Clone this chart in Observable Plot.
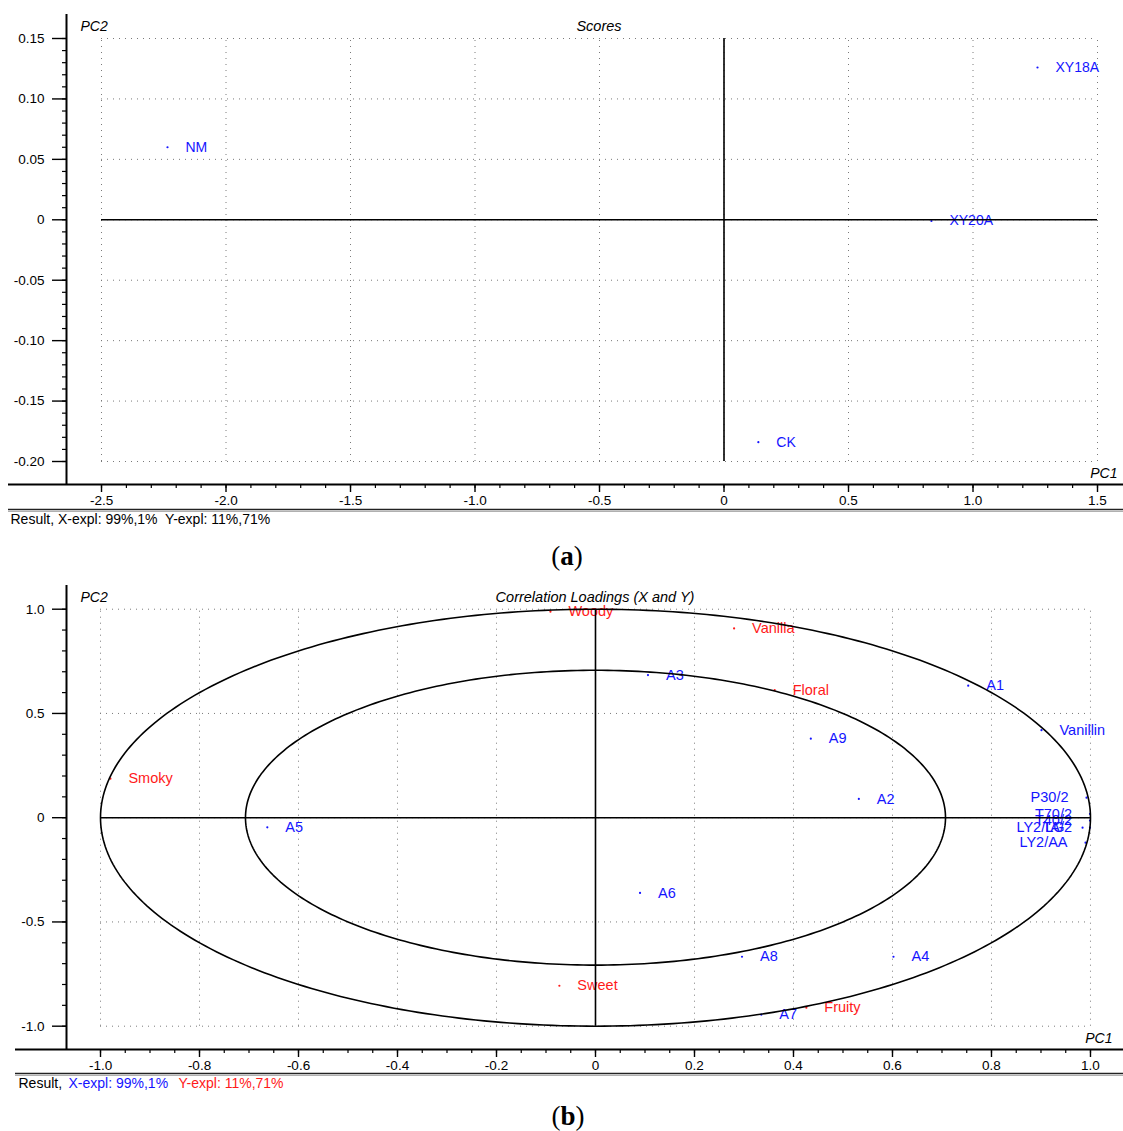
<!DOCTYPE html>
<html>
<head>
<meta charset="utf-8">
<script src="https://cdn.jsdelivr.net/npm/d3@7"></script>
<script src="https://cdn.jsdelivr.net/npm/@observablehq/plot@0.6"></script>
<style>
  html, body { margin: 0; padding: 0; background: #fff; overflow: hidden; }
  #wrap { width: 1123px; }
  .cap { position: relative; font-family: "Liberation Serif", "Times New Roman", serif; font-size: 27px; color: #000; }
  .cap span { position: absolute; left: 567px; transform: translateX(-50%); }
  .cap b { font-weight: bold; }
</style>
</head>
<body>
<div id="wrap">
  <div id="panelA"></div>
  <div class="cap" style="height:50px;line-height:52px;"><span>(<b>a</b>)</span></div>
  <div id="panelB"></div>
  <div class="cap" style="height:41px;line-height:52px;"><span style="left:568px">(<b>b</b>)</span></div>
</div>
<script>
// ---------- Panel (a): Scores ----------
const scoreNames = ["NM", "XY18A", "XY20A", "CK"];
const scorePC1 = [-2.235, 1.259, 0.833, 0.138];
const scorePC2 = [0.060, 0.126, -0.001, -0.184];

const xTicksA = [-2.5, -2.0, -1.5, -1.0, -0.5, 0, 0.5, 1.0, 1.5];
const xTickLabelsA = ["-2.5", "-2.0", "-1.5", "-1.0", "-0.5", "0", "0.5", "1.0", "1.5"];
const yTicksA = [-0.20, -0.15, -0.10, -0.05, 0, 0.05, 0.10, 0.15];
const yTickLabelsA = ["-0.20", "-0.15", "-0.10", "-0.05", "0", "0.05", "0.10", "0.15"];
const xMinorA = d3.range(-25, 16).map(i => i / 10);
const yMinorA = d3.range(-20, 16).map(i => i / 100);

// ---------- Panel (b): Correlation loadings ----------
const xVarNames = ["A1", "Vanillin", "A3", "A9", "A2", "A5", "A6", "A8", "A4", "A7",
                   "P30/2", "T70/2", "T40/2", "LY2/LG", "TA/2", "LY2/AA"];
const xVarPC1 = [0.753, 0.901, 0.106, 0.435, 0.532, -0.663, 0.090, 0.296, 0.602, 0.335,
                 0.992, 0.999, 0.999, 0.984, 0.999, 0.990];
const xVarPC2 = [0.633, 0.420, 0.684, 0.379, 0.090, -0.046, -0.361, -0.667, -0.667, -0.945,
                 0.096, 0.018, -0.014, -0.048, -0.048, -0.120];
const yVarNames = ["Woody", "Vanilla", "Floral", "Smoky", "Sweet", "Fruity"];
const yVarPC1 = [-0.091, 0.280, 0.362, -0.980, -0.073, 0.426];
const yVarPC2 = [0.988, 0.908, 0.612, 0.187, -0.806, -0.911];

const xTicksB = [-1.0, -0.8, -0.6, -0.4, -0.2, 0, 0.2, 0.4, 0.6, 0.8, 1.0];
const xTickLabelsB = ["-1.0", "-0.8", "-0.6", "-0.4", "-0.2", "0", "0.2", "0.4", "0.6", "0.8", "1.0"];
const yTicksB = [-1.0, -0.5, 0, 0.5, 1.0];
const yTickLabelsB = ["-1.0", "-0.5", "0", "0.5", "1.0"];
const xMinorB = d3.range(-20, 21).map(i => i / 20);
const yMinorB = d3.range(-10, 11).map(i => i / 10);
const circleRadii = [1, Math.SQRT1_2];   // 100% and 50% explained variance circles

// ---------- helpers ----------
const FONT = '"Liberation Sans", Arial, Helvetica, sans-serif';
const BLUE = "#1414ff", RED = "#ff1a1a";

function lookup(ticks, labels) {
  return d => { const i = ticks.findIndex(t => Math.abs(t - d) < 1e-9); return i < 0 ? "" : labels[i]; };
}

function panel(o) {
  const gx0 = d3.min(o.xTicks), gx1 = d3.max(o.xTicks);
  const gy0 = d3.min(o.yTicks), gy1 = d3.max(o.yTicks);
  const grid = {stroke: "#7a7a7a", strokeWidth: 1, strokeDasharray: "1,5"};
  const axisLine = {stroke: "#000", strokeWidth: 2};
  return Plot.plot({
    width: 1123, height: o.height,
    marginLeft: 66, marginRight: 0, marginTop: o.marginTop, marginBottom: o.marginBottom,
    x: {domain: o.xDomain, label: null},
    y: {domain: o.yDomain, label: null},
    style: {fontFamily: FONT, fontSize: "13px", background: "white", color: "black", overflow: "visible"},
    marks: [
      Plot.ruleX(o.xTicks, {x: d => d, y1: () => gy0, y2: () => gy1, ...grid}),
      Plot.ruleY(o.yTicks, {y: d => d, x1: () => gx0, x2: () => gx1, ...grid}),
      ...o.inner,
      Plot.ruleY([0], {x1: () => gx0, x2: () => gx1, stroke: "#000", strokeWidth: 1.6}),
      Plot.ruleX([0], {y1: () => gy0, y2: () => gy1, stroke: "#000", strokeWidth: 1.6}),
      Plot.axisY({ticks: o.yTicks, tickSize: 14, tickPadding: 8, strokeWidth: 1.4,
                  tickFormat: lookup(o.yTicks, o.yLabels), fontSize: 13.5, label: null}),
      Plot.axisY({ticks: o.yMinor, tickSize: 4, strokeWidth: 1.2, tickFormat: () => "", label: null}),
      Plot.axisX({ticks: o.xTicks, tickSize: 8, tickPadding: 3, strokeWidth: 1.4,
                  tickFormat: lookup(o.xTicks, o.xLabels), fontSize: 13.5, label: null}),
      Plot.axisX({ticks: o.xMinor, tickSize: 4, strokeWidth: 1.2, tickFormat: () => "", label: null}),
      Plot.ruleX([o.xDomain[0]], axisLine),
      Plot.ruleY([o.yDomain[0]], {insetLeft: -o.extendLeft, ...axisLine}),
      Plot.ruleY([o.yDomain[0]], {dy: o.lineGap, insetLeft: -o.extendLeft, stroke: "#222", strokeWidth: 1.5}),
      Plot.ruleY([o.yDomain[0]], {dy: o.lineGap + 2, insetLeft: -o.extendLeft, stroke: "#b0b0b0", strokeWidth: 1}),
      Plot.text([o.title], {text: d => d, frameAnchor: "top", dx: o.titleDx, dy: 12, lineAnchor: "middle",
                            textAnchor: "middle", fontStyle: "italic", fontSize: 14.5, fill: "#000"}),
      Plot.text(["PC2"], {text: d => d, frameAnchor: "top-left", dx: 14, dy: 12, lineAnchor: "middle",
                          textAnchor: "start", fontStyle: "italic", fontSize: 14, fill: "#000"}),
      Plot.text(["PC1"], {text: d => d, frameAnchor: "bottom-right", dx: o.pc1Dx, dy: -11, lineAnchor: "middle",
                          textAnchor: "end", fontStyle: "italic", fontSize: 14, fill: "#000"}),
      ...o.result.map(r => Plot.text([r.text], {text: d => d, frameAnchor: "bottom-left", dx: r.dx, dy: o.lineGap + 10,
                          lineAnchor: "middle", textAnchor: "start", fontSize: 14, fill: r.color}))
    ]
  });
}

// ---------- build panel (a) ----------
const scores = scoreNames.map((n, i) => ({name: n, pc1: scorePC1[i], pc2: scorePC2[i]}));
const plotA = panel({
  height: 530, marginTop: 14, marginBottom: 46,
  xDomain: [-2.6406, 1.6044], yDomain: [-0.21903, 0.16986],
  xTicks: xTicksA, xLabels: xTickLabelsA, yTicks: yTicksA, yLabels: yTickLabelsA,
  xMinor: xMinorA, yMinor: yMinorA,
  extendLeft: 58, lineGap: 25, title: "Scores", titleDx: 4, pc1Dx: -6,
  inner: [
    Plot.dot(scores, {x: "pc1", y: "pc2", r: 1.1, fill: BLUE}),
    Plot.text(scores, {x: "pc1", y: "pc2", text: "name", dx: 18, textAnchor: "start", fontSize: 14, fill: BLUE})
  ],
  result: [{text: "Result, X-expl: 99%,1%\u00a0 Y-expl: 11%,71%", dx: -56, color: "#000"}]
});
document.getElementById("panelA").append(plotA);

// ---------- build panel (b) ----------
const loadX = xVarNames.map((n, i) => ({name: n, pc1: xVarPC1[i], pc2: xVarPC2[i]}));
const loadY = yVarNames.map((n, i) => ({name: n, pc1: yVarPC1[i], pc2: yVarPC2[i]}));
const atEdge = d => d.pc1 > 0.95;
const circles = circleRadii.flatMap(r => d3.range(0, 361, 1).map(a => ({r, x: r * Math.cos(a * Math.PI / 180), y: r * Math.sin(a * Math.PI / 180)})));

const plotB = panel({
  height: 510, marginTop: 5, marginBottom: 41,
  xDomain: [-1.0687, 1.0667], yDomain: [-1.1118, 1.1137],
  xTicks: xTicksB, xLabels: xTickLabelsB, yTicks: yTicksB, yLabels: yTickLabelsB,
  xMinor: xMinorB, yMinor: yMinorB,
  extendLeft: 51, lineGap: 24, title: "Correlation Loadings (X and Y)", titleDx: 0, pc1Dx: -11,
  inner: [
    Plot.dot(loadX, {x: "pc1", y: "pc2", r: 1.1, fill: BLUE}),
    Plot.dot(loadY, {x: "pc1", y: "pc2", r: 1.1, fill: RED}),
    Plot.text(loadX.filter(d => !atEdge(d)), {x: "pc1", y: "pc2", text: "name", dx: 18, textAnchor: "start", fontSize: 14.5, fill: BLUE}),
    Plot.text(loadX.filter(atEdge), {x: "pc1", y: "pc2", text: "name", dx: -18, textAnchor: "end", fontSize: 14.5, fill: BLUE}),
    Plot.text(loadY, {x: "pc1", y: "pc2", text: "name", dx: 18, textAnchor: "start", fontSize: 14.5, fill: RED}),
    Plot.line(circles, {x: "x", y: "y", z: "r", stroke: "#000", strokeWidth: 1.6})
  ],
  result: [
    {text: "Result,", dx: -48, color: "#000"},
    {text: "X-expl: 99%,1%", dx: 2, color: BLUE},
    {text: "Y-expl: 11%,71%", dx: 112, color: RED}
  ]
});
document.getElementById("panelB").append(plotB);
</script>
</body>
</html>
